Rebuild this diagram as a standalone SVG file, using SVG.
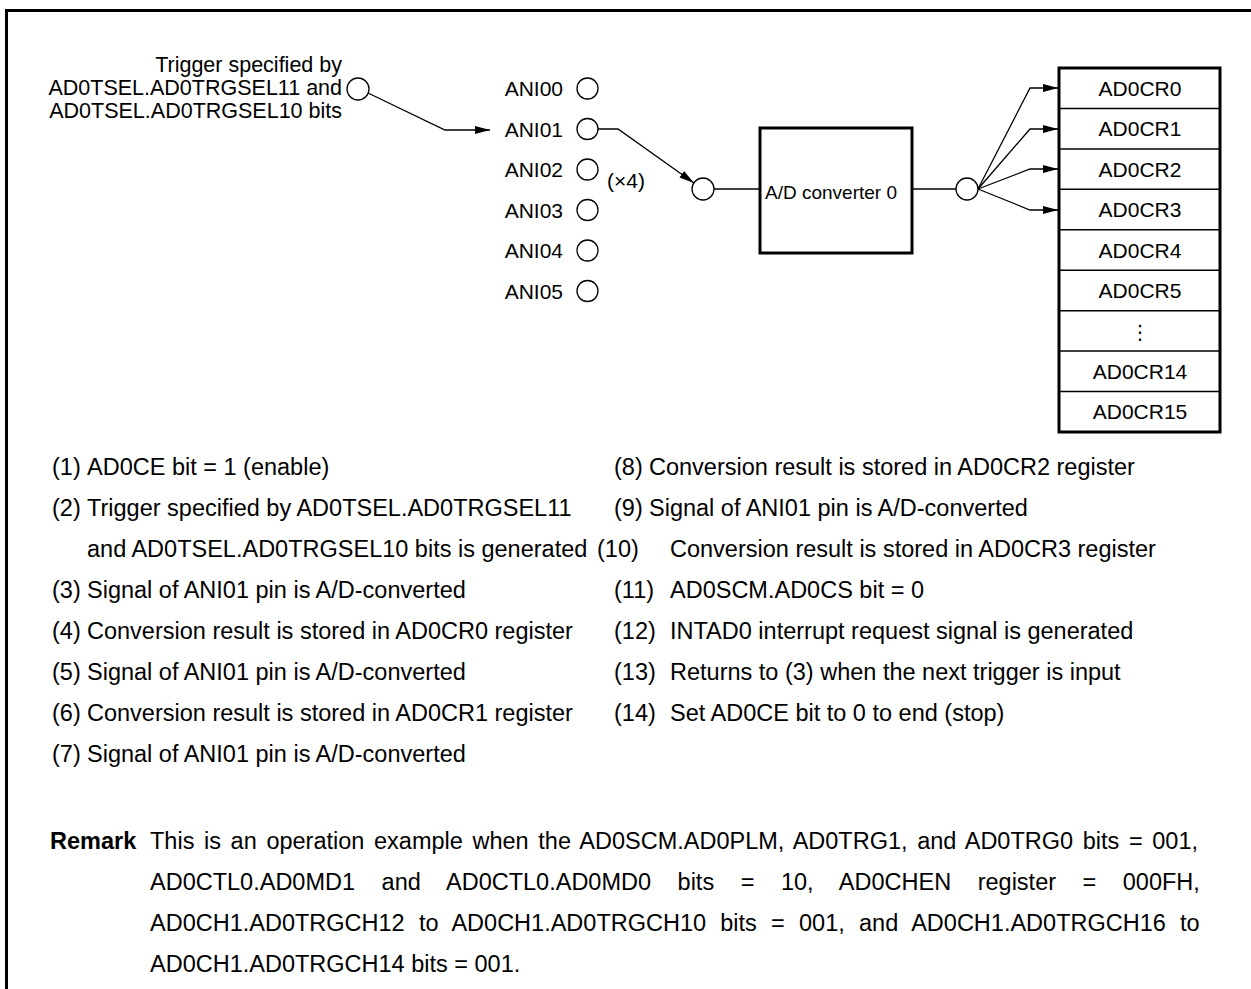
<svg xmlns="http://www.w3.org/2000/svg" width="1251" height="989" viewBox="0 0 1251 989">
<style>
text{font-family:"Liberation Sans",Arial,sans-serif;fill:#000}
.d{font-size:21px}
.t{font-size:21.5px}
.l{font-size:23.5px}
.c{text-anchor:middle}
.e{text-anchor:end}
.ln{fill:none;stroke:#000;stroke-width:1.3}
.pin{fill:#fff;stroke:#000;stroke-width:1.3}
.box{fill:#fff;stroke:#000;stroke-width:3}
.sep{stroke:#000;stroke-width:1.5}
</style>
<defs>
<marker id="ah" markerUnits="userSpaceOnUse" markerWidth="16" markerHeight="10" refX="15" refY="4" orient="auto">
<path d="M0,0 L15,4 L0,8 z" fill="#000"/>
</marker>
</defs>
<rect width="1251" height="989" fill="#fff"/>
<path d="M6.5,989 V10.5 H1251" fill="none" stroke="#000" stroke-width="3"/>

<g id="trigger">
<text class="t e" x="342" y="72">Trigger specified by</text>
<text class="t e" x="342" y="95">AD0TSEL.AD0TRGSEL11 and</text>
<text class="t e" x="342" y="118">AD0TSEL.AD0TRGSEL10 bits</text>
<circle class="pin" cx="358" cy="89" r="11"/>
</g>

<g id="pins">
<text class="d e" x="563" y="96">ANI00</text>
<text class="d e" x="563" y="137">ANI01</text>
<text class="d e" x="563" y="177">ANI02</text>
<text class="d e" x="563" y="218">ANI03</text>
<text class="d e" x="563" y="258">ANI04</text>
<text class="d e" x="563" y="299">ANI05</text>
<circle class="pin" cx="587.5" cy="88.5" r="10.5"/>
<circle class="pin" cx="587.5" cy="129" r="10.5"/>
<circle class="pin" cx="587.5" cy="169.5" r="10.5"/>
<circle class="pin" cx="587.5" cy="210" r="10.5"/>
<circle class="pin" cx="587.5" cy="250.5" r="10.5"/>
<circle class="pin" cx="587.5" cy="291" r="10.5"/>
<text class="d" x="607" y="188">(×4)</text>
</g>

<g id="mux-in"><circle class="pin" cx="703" cy="189" r="11"/></g>

<g id="adc">
<rect class="box" x="760" y="128" width="152" height="125"/>
<text x="765" y="199" style="font-size:19px">A/D converter 0</text>
</g>

<g id="mux-out"><circle class="pin" cx="967" cy="189" r="11"/></g>

<g id="registers">
<rect class="box" x="1059" y="68" width="161" height="364"/>
<line class="sep" x1="1059" y1="108.4" x2="1220" y2="108.4"/>
<line class="sep" x1="1059" y1="148.9" x2="1220" y2="148.9"/>
<line class="sep" x1="1059" y1="189.3" x2="1220" y2="189.3"/>
<line class="sep" x1="1059" y1="229.8" x2="1220" y2="229.8"/>
<line class="sep" x1="1059" y1="270.2" x2="1220" y2="270.2"/>
<line class="sep" x1="1059" y1="310.7" x2="1220" y2="310.7"/>
<line class="sep" x1="1059" y1="351.1" x2="1220" y2="351.1"/>
<line class="sep" x1="1059" y1="391.6" x2="1220" y2="391.6"/>
<text class="d c" x="1140" y="96">AD0CR0</text>
<text class="d c" x="1140" y="136">AD0CR1</text>
<text class="d c" x="1140" y="177">AD0CR2</text>
<text class="d c" x="1140" y="217">AD0CR3</text>
<text class="d c" x="1140" y="258">AD0CR4</text>
<text class="d c" x="1140" y="298">AD0CR5</text>
<text class="c" x="1140" y="339" style="font-family:'DejaVu Sans',sans-serif;font-size:20px">⋮</text>
<text class="d c" x="1140" y="379">AD0CR14</text>
<text class="d c" x="1140" y="419">AD0CR15</text>
</g>

<g id="connectors">
<path class="ln" d="M368,93 L445,130 H490" marker-end="url(#ah)"/>
<path class="ln" d="M598,129 H618 L694,183" marker-end="url(#ah)"/>
<path class="ln" d="M714,189 H760"/>
<path class="ln" d="M912,189 H956"/>
<path class="ln" d="M978,189 L1030,88 H1058" marker-end="url(#ah)"/>
<path class="ln" d="M978,189 L1030,129 H1058" marker-end="url(#ah)"/>
<path class="ln" d="M978,189 L1030,169 H1058" marker-end="url(#ah)"/>
<path class="ln" d="M978,189 L1030,210 H1058" marker-end="url(#ah)"/>
</g>

<g id="steps">
<text class="l" x="52" y="475">(1)</text><text class="l" x="87" y="475">AD0CE bit = 1 (enable)</text>
<text class="l" x="52" y="516">(2)</text><text class="l" x="87" y="516">Trigger specified by AD0TSEL.AD0TRGSEL11</text>
<text class="l" x="87" y="557">and AD0TSEL.AD0TRGSEL10 bits is generated</text>
<text class="l" x="52" y="598">(3)</text><text class="l" x="87" y="598">Signal of ANI01 pin is A/D-converted</text>
<text class="l" x="52" y="639">(4)</text><text class="l" x="87" y="639">Conversion result is stored in AD0CR0 register</text>
<text class="l" x="52" y="680">(5)</text><text class="l" x="87" y="680">Signal of ANI01 pin is A/D-converted</text>
<text class="l" x="52" y="721">(6)</text><text class="l" x="87" y="721">Conversion result is stored in AD0CR1 register</text>
<text class="l" x="52" y="762">(7)</text><text class="l" x="87" y="762">Signal of ANI01 pin is A/D-converted</text>

<text class="l" x="614" y="475">(8)</text><text class="l" x="649" y="475">Conversion result is stored in AD0CR2 register</text>
<text class="l" x="614" y="516">(9)</text><text class="l" x="649" y="516">Signal of ANI01 pin is A/D-converted</text>
<text class="l" x="597" y="557">(10)</text><text class="l" x="670" y="557">Conversion result is stored in AD0CR3 register</text>
<text class="l" x="614" y="598">(11)</text><text class="l" x="670" y="598">AD0SCM.AD0CS bit = 0</text>
<text class="l" x="614" y="639">(12)</text><text class="l" x="670" y="639">INTAD0 interrupt request signal is generated</text>
<text class="l" x="614" y="680">(13)</text><text class="l" x="670" y="680">Returns to (3) when the next trigger is input</text>
<text class="l" x="614" y="721">(14)</text><text class="l" x="670" y="721">Set AD0CE bit to 0 to end (stop)</text>
</g>

<g id="remark">
<text class="l" x="50" y="849" style="font-weight:bold">Remark</text>
<text class="l" x="150" y="849" word-spacing="3.1">This is an operation example when the AD0SCM.AD0PLM, AD0TRG1, and AD0TRG0 bits = 001,</text>
<text class="l" x="150" y="890" word-spacing="20">AD0CTL0.AD0MD1 and AD0CTL0.AD0MD0 bits = 10, AD0CHEN register = 000FH,</text>
<text class="l" x="150" y="931" word-spacing="7.7">AD0CH1.AD0TRGCH12 to AD0CH1.AD0TRGCH10 bits = 001, and AD0CH1.AD0TRGCH16 to</text>
<text class="l" x="150" y="972">AD0CH1.AD0TRGCH14 bits = 001.</text>
</g>
</svg>
